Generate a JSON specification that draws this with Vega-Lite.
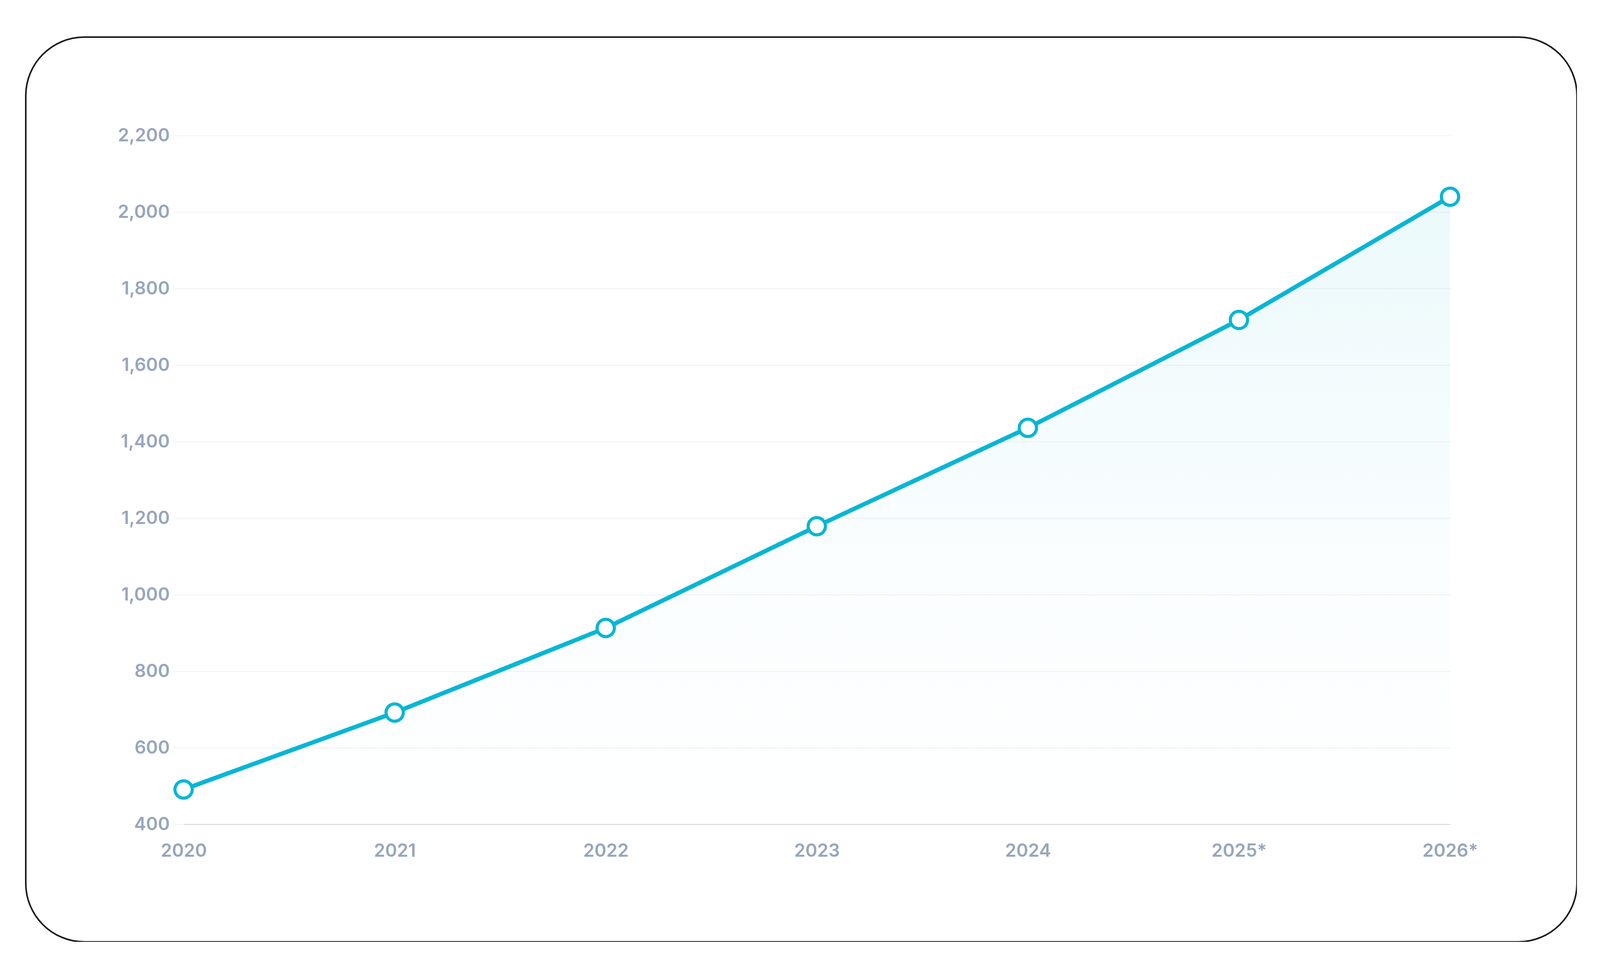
{
  "$schema": "https://vega.github.io/schema/vega-lite/v6.json",
  "width": 3971,
  "height": 2317,
  "autosize": {"type": "none"},
  "padding": {"left": 66, "top": 95, "right": 0, "bottom": 0},
  "background": "#ffffff",
  "config": {
    "view": {"stroke": "#1a1a1a", "strokeWidth": 4, "cornerRadius": 150},
    "font": "Inter",
    "axis": {
      "labelFont": "Inter",
      "labelColor": "#97a6bd",
      "labelFontWeight": 600,
      "title": null
    }
  },
  "data": {
    "values": [
      {"year": "2020", "value": 491},
      {"year": "2021", "value": 692},
      {"year": "2022", "value": 913},
      {"year": "2023", "value": 1179},
      {"year": "2024", "value": 1436},
      {"year": "2025*", "value": 1718},
      {"year": "2026*", "value": 2040}
    ]
  },
  "encoding": {
    "x": {
      "field": "year",
      "type": "ordinal",
      "sort": null,
      "scale": {"type": "point", "range": [404, 3646], "padding": 0},
      "axis": {
        "orient": "bottom",
        "offset": -301,
        "labelAngle": 0,
        "labelFontSize": 46,
        "labelPadding": 46,
        "ticks": false,
        "grid": false,
        "domainColor": "#dedede",
        "domainWidth": 3,
        "title": null
      }
    },
    "y": {
      "field": "value",
      "type": "quantitative",
      "scale": {"domain": [400, 2200], "range": [2016, 252], "nice": false, "zero": false},
      "axis": {
        "orient": "left",
        "offset": -404,
        "values": [400, 600, 800, 1000, 1200, 1400, 1600, 1800, 2000, 2200],
        "format": ",.0f",
        "labelFontSize": 46,
        "labelPadding": 10,
        "tickSize": 26,
        "tickColor": "#f3f5f8",
        "tickWidth": 3,
        "grid": true,
        "gridColor": "#f3f5f8",
        "gridWidth": 3,
        "domain": false,
        "title": null
      }
    }
  },
  "layer": [
    {
      "mark": {
        "type": "area",
        "fill": {
          "gradient": "linear",
          "x1": 0, "y1": 0, "x2": 0, "y2": 1,
          "stops": [
            {"offset": 0, "color": "rgba(6,182,212,0.08)"},
            {"offset": 0.6, "color": "rgba(6,182,212,0.02)"},
            {"offset": 1, "color": "rgba(6,182,212,0)"}
          ]
        }
      },
      "encoding": {"y2": {"datum": 400}}
    },
    {
      "mark": {"type": "line", "color": "#06b6d4", "strokeWidth": 11, "strokeCap": "round", "strokeJoin": "round"}
    },
    {
      "mark": {"type": "point", "shape": "circle", "filled": true, "fill": "#ffffff", "stroke": "#06b6d4", "strokeWidth": 8, "size": 1960, "opacity": 1}
    }
  ]
}
